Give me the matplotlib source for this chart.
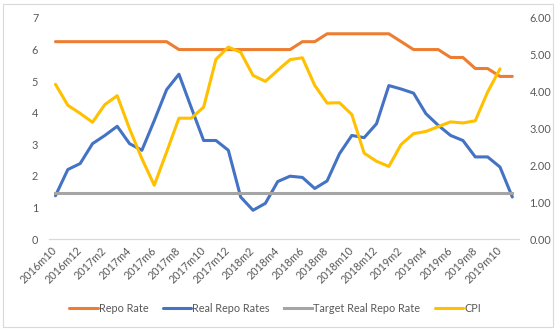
import matplotlib
matplotlib.use("Agg")
from matplotlib import pyplot as plt
from matplotlib.patches import Rectangle

# monthly, 2016m10 .. 2019m11
months = []
for y in [2016, 2017, 2018, 2019]:
    for m in range(1, 13):
        if (y == 2016 and m < 10) or (y == 2019 and m > 11):
            continue
        months.append("%dm%d" % (y, m))

repo_rate = [6.25, 6.25, 6.25, 6.25, 6.25, 6.25, 6.25, 6.25, 6.25, 6.25,
             6.0, 6.0, 6.0, 6.0, 6.0, 6.0, 6.0, 6.0, 6.0, 6.0,
             6.25, 6.25, 6.5, 6.5, 6.5, 6.5, 6.5, 6.5, 6.25,
             6.0, 6.0, 6.0, 5.75, 5.75, 5.40, 5.40, 5.15, 5.15]
real_repo = [1.37, 2.20, 2.39, 3.02, 3.28, 3.57, 3.02, 2.81, 3.75, 4.73,
             5.22, 4.16, 3.12, 3.12, 2.81, 1.33, 0.91, 1.13, 1.82, 1.99,
             1.95, 1.60, 1.84, 2.70, 3.28, 3.21, 3.65, 4.86, 4.75, 4.62,
             3.97, 3.60, 3.28, 3.12, 2.60, 2.60, 2.28, 1.33]
target_real = [1.45] * len(months)
cpi = [4.20, 3.63, 3.41, 3.17, 3.65, 3.89, 2.99, 2.18, 1.46, 2.36,
       3.28, 3.28, 3.58, 4.88, 5.21, 5.07, 4.44, 4.28, 4.58, 4.87,
       4.92, 4.17, 3.69, 3.70, 3.38, 2.33, 2.11, 1.97, 2.57, 2.86,
       2.92, 3.05, 3.18, 3.15, 3.21, 3.99, 4.62]

plt.rcParams['font.family'] = ['Lato', 'DejaVu Sans']
fs = 7.8
txt = '#595959'

fig = plt.figure(figsize=(5.56, 3.30), dpi=100)
fig.patches.append(Rectangle((2.5/556, 3.5/330), 550/556, 323/330, transform=fig.transFigure,
                             fill=False, edgecolor='#D9D9D9', linewidth=0.8))

ax = fig.add_axes([49.3/556, 91/330, 469.2/556, 221/330])
x = list(range(len(months)))
lw = 2.2
ax.plot(x, repo_rate, color='#ED7D31', lw=lw, label='Repo Rate', solid_capstyle='round')
ax.plot(x, real_repo, color='#4472C4', lw=lw, label='Real Repo Rates', solid_capstyle='round')
ax.plot(x, target_real, color='#A5A5A5', lw=lw, label='Target Real Repo Rate')
ax.set_ylim(0, 7)
ax.set_xlim(-0.5, len(months) - 0.5)
ax.set_yticks(range(0, 8))

ax2 = ax.twinx()
ax2.plot(x[:len(cpi)], cpi, color='#FFC000', lw=lw, label='CPI', solid_capstyle='round')
ax2.set_ylim(0, 6)
ax2.set_yticks(range(0, 7))
ax2.set_yticklabels(["%.2f" % v for v in range(0, 7)])

for a in (ax, ax2):
    for sp in a.spines.values():
        sp.set_visible(False)
    a.tick_params(length=0, labelsize=fs, labelcolor=txt)
ax.spines['bottom'].set_visible(True)
ax.spines['bottom'].set_color('#D9D9D9')
ax.spines['bottom'].set_linewidth(0.9)
ax.tick_params(axis='y', pad=8)
ax2.tick_params(axis='y', pad=8)

ax.set_xticks(x[::2])
ax.set_xticklabels(months[::2], rotation=45, ha='right', va='center', rotation_mode='anchor')
ax.tick_params(axis='x', pad=7)

handles = ax.get_lines() + ax2.get_lines()
fig.legend(handles, [h.get_label() for h in handles], loc='center', bbox_to_anchor=(0.495, 22/330),
           ncol=4, frameon=False, fontsize=fs, labelcolor=txt, handlelength=2.6,
           handletextpad=0.1, columnspacing=1.35)

fig.savefig('out.png', dpi=100)
